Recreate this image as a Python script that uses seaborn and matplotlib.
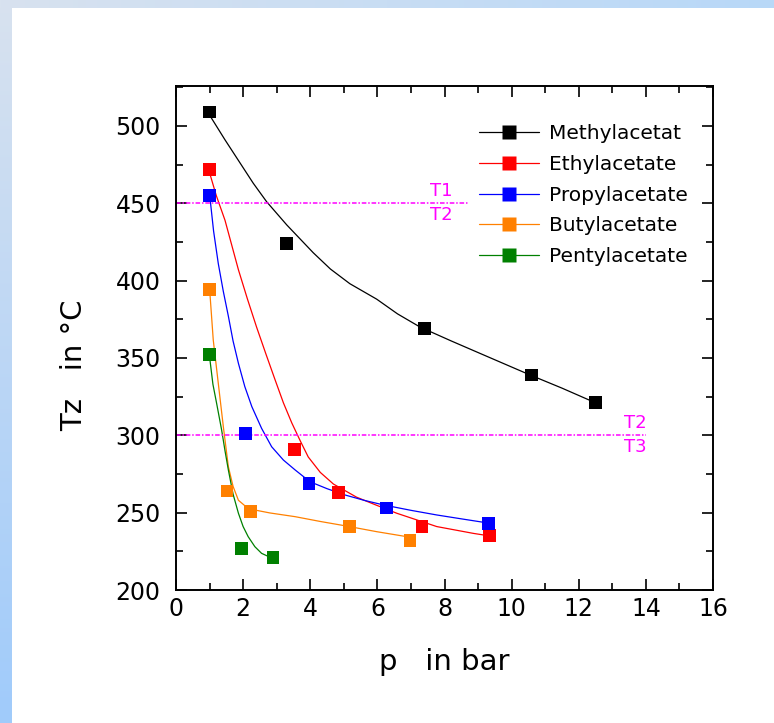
import numpy as np
import pandas as pd
import matplotlib
matplotlib.use("Agg")
import matplotlib.pyplot as plt
from matplotlib.lines import Line2D
from matplotlib.ticker import MultipleLocator
import seaborn as sns

# ---------------- data ----------------
series = ["Methylacetat", "Ethylacetate", "Propylacetate", "Butylacetate", "Pentylacetate"]
colors = ["#000000", "#ff0000", "#0000ff", "#ff8000", "#008000"]

# measured points
meth_p = [1.0, 3.3, 7.4, 10.6, 12.5]
meth_t = [509, 424, 369, 339, 321]
eth_p = [1.0, 3.52, 4.83, 7.33, 9.33]
eth_t = [472, 291, 263, 241, 235]
prop_p = [1.0, 2.06, 3.96, 6.26, 9.3]
prop_t = [455, 301, 269, 253, 243]
but_p = [1.0, 1.52, 2.23, 5.18, 6.97]
but_t = [394, 264, 251, 241, 232]
pent_p = [1.0, 1.94, 2.89]
pent_t = [352, 227, 221]

# fitted curves
meth_cp = [1.0, 1.46, 1.91, 2.30, 2.70, 3.30, 4.09, 4.60, 5.18, 5.98, 6.60, 7.27, 8.20, 9.16, 10.55, 11.50, 12.5]
meth_ct = [507, 491, 476, 463, 451, 436, 418, 407.5, 398, 388, 378.5, 370, 361, 352, 339, 330.5, 321]
eth_cp = [1.01, 1.20, 1.46, 1.66, 1.86, 2.13, 2.40, 2.68, 2.95, 3.20, 3.45, 3.70, 3.94, 4.30, 4.69, 5.38, 5.95, 6.58, 7.77, 8.86, 9.33]
eth_ct = [469, 455, 439, 423, 407, 388, 370, 352.5, 336, 321, 308, 296.5, 286, 276, 268.5, 260, 255, 249.6, 241, 236.6, 235]
prop_cp = [1.01, 1.12, 1.26, 1.41, 1.56, 1.70, 1.86, 2.05, 2.26, 2.55, 2.85, 3.20, 3.55, 3.99, 4.50, 5.04, 5.60, 6.18, 7.00, 7.77, 8.50, 9.3]
prop_ct = [454, 432, 411, 393, 377, 361, 346.5, 331.5, 318.5, 304.5, 292.6, 284, 277.6, 270, 265.5, 261.4, 258, 255, 251.5, 248.5, 246, 243.3]
but_cp = [1.01, 1.11, 1.26, 1.41, 1.56, 1.70, 1.86, 2.05, 2.35, 2.80, 3.55, 4.30, 5.04, 5.98, 6.87, 6.97]
but_ct = [392, 361.6, 333.6, 305.6, 279.7, 267, 258, 254.5, 251.7, 249.8, 247.4, 244.3, 241.5, 237.7, 234.5, 233]
pent_cp = [1.01, 1.10, 1.21, 1.36, 1.46, 1.56, 1.70, 1.86, 2.00, 2.15, 2.35, 2.55, 2.72, 2.90]
pent_ct = [349, 333, 320.7, 303.4, 290, 277.6, 262, 249.6, 241, 234.5, 228, 223.7, 222, 221.5]

x_ticks = [0, 2, 4, 6, 8, 10, 12, 14, 16]
y_ticks = [200, 250, 300, 350, 400, 450, 500]

boundaries = [450, 300]
boundary_ends = [9.0, 14.0]
boundary_labels = [("T1", "T2"), ("T2", "T3")]
label_x = [7.9, 13.7]

pts = pd.concat([
    pd.DataFrame({"p": p, "T": t, "s": s})
    for p, t, s in zip([meth_p, eth_p, prop_p, but_p, pent_p],
                       [meth_t, eth_t, prop_t, but_t, pent_t], series)
])
curves = pd.concat([
    pd.DataFrame({"p": p, "T": t, "s": s})
    for p, t, s in zip([meth_cp, eth_cp, prop_cp, but_cp, pent_cp],
                       [meth_ct, eth_ct, prop_ct, but_ct, pent_ct], series)
])
palette = dict(zip(series, colors))

# ---------------- figure ----------------
sns.set_style("ticks")
plt.rcParams["font.family"] = ["DejaVu Sans"]
plt.rcParams["text.color"] = "black"
plt.rcParams["axes.labelcolor"] = "black"
plt.rcParams["xtick.color"] = "black"
plt.rcParams["ytick.color"] = "black"

fig = plt.figure(figsize=(7.74, 7.23), dpi=100)

# background gradient frame
bg = fig.add_axes([0, 0, 1, 1], zorder=-10)
bg.set_axis_off()
H, W = 723, 774
img = np.ones((H, W, 3))
c_top = np.array([0xd8, 0xe2, 0xef]) / 255
c_bot = np.array([0xa0, 0xcb, 0xfb]) / 255
c_right = np.array([0xb8, 0xd8, 0xf8]) / 255
fy = np.linspace(0, 1, H)[:, None]
img[:, :12, :] = (c_top * (1 - fy) + c_bot * fy)[:, None, :].repeat(12, axis=1)
fx = np.linspace(0, 1, W)[:, None]
img[:8, :, :] = (c_top * (1 - fx) + c_right * fx)[None, :, :].repeat(8, axis=0)
bg.imshow(img, aspect="auto", extent=[0, 1, 0, 1])
bg.set_xlim(0, 1)
bg.set_ylim(0, 1)

ax = fig.add_axes([176 / 774, (723 - 590) / 723, (713 - 176) / 774, (590 - 86) / 723])

sns.lineplot(data=curves, x="p", y="T", hue="s", palette=palette, sort=False,
             estimator=None, linewidth=0.9, legend=False, ax=ax)
sns.scatterplot(data=pts, x="p", y="T", hue="s", palette=palette, marker="s",
                s=85, edgecolor="none", legend=False, ax=ax, zorder=3)

for yb, xe, (lab_a, lab_b), lx in zip(boundaries, boundary_ends, boundary_labels, label_x):
    ax.plot([0, xe], [yb, yb], color="#ff00ff", linestyle=(0, (3, 1.2, 1, 1.2)),
            linewidth=1.1)
    ax.text(lx, yb + 2, lab_a, color="#ff00ff", fontsize=13, ha="center", va="bottom")
    ax.text(lx, yb - 2, lab_b, color="#ff00ff", fontsize=13, ha="center", va="top")

ax.set_xlim(0, 16)
ax.set_ylim(200, 525.8)
ax.set_xticks(x_ticks)
ax.set_yticks(y_ticks)
ax.xaxis.set_minor_locator(MultipleLocator(1))
ax.yaxis.set_minor_locator(MultipleLocator(25))
ax.tick_params(which="both", direction="in", top=True, right=True, width=1.2,
               labelsize=17, colors="black")
ax.tick_params(which="major", length=8)
ax.tick_params(which="minor", length=5)
ax.tick_params(axis="y", which="major", pad=11)
ax.tick_params(axis="x", which="major", pad=5)
for sp in ax.spines.values():
    sp.set_visible(True)
    sp.set_linewidth(1.4)
    sp.set_color("black")

ax.set_xlabel("p   in bar", fontsize=21)
ax.set_ylabel("Tz   in °C", fontsize=21)
ax.xaxis.set_label_coords(0.499, -0.115)
ax.yaxis.set_label_coords(-0.164, 0.446)

handles = [Line2D([0], [0], color=c, linewidth=0.9, marker="s", markersize=9.5,
                  markeredgecolor="none") for c in colors]
leg = ax.legend(handles, series, loc="upper left", bbox_to_anchor=(0.545, 0.944),
                fontsize=14.5, frameon=True, edgecolor="none", framealpha=1,
                handlelength=3.0, labelspacing=0.58, borderaxespad=0, handletextpad=0.5,
                borderpad=0.5)
leg.set_zorder(5)
for t in leg.get_texts():
    t.set_color("black")

fig.savefig("out.png", dpi=100)
